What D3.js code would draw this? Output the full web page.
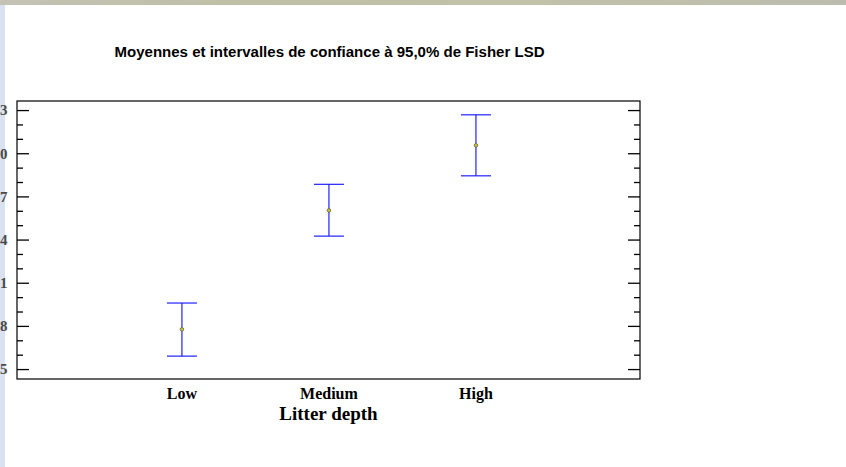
<!DOCTYPE html>
<html><head><meta charset="utf-8">
<script src="https://cdn.jsdelivr.net/npm/d3@7"></script>
<style>body{margin:0;background:#fff;}svg{display:block;}</style>
</head><body>
<script>
const categories = ["Low", "Medium", "High"];
const means = [7.76, 16.03, 20.55];
const lowers = [5.90, 14.24, 18.43];
const uppers = [9.59, 17.84, 22.67];
const majorTicks = [5, 8, 11, 14, 17, 20, 23];
const minorTicks = [6, 7, 9, 10, 12, 13, 15, 16, 18, 19, 21, 22];
// the reference is cropped on the left: only the last digit of each tick label is visible
const yTickLabels = ["5", "8", "1", "4", "7", "0", "3"];
const title = "Moyennes et intervalles de confiance à 95,0% de Fisher LSD";
const xTitle = "Litter depth";

const W = 846, H = 467;
const svg = d3.select("body").append("svg").attr("width", W).attr("height", H);

const grad = svg.append("defs").append("linearGradient").attr("id", "topg");
grad.append("stop").attr("offset", "0%").attr("stop-color", "#c4c2b4");
grad.append("stop").attr("offset", "30%").attr("stop-color", "#bfbfa6");
grad.append("stop").attr("offset", "60%").attr("stop-color", "#c2c2aa");
grad.append("stop").attr("offset", "100%").attr("stop-color", "#bcbcae");
svg.append("rect").attr("x", 0).attr("y", 0).attr("width", W).attr("height", 5).attr("fill", "url(#topg)");
svg.append("rect").attr("x", 0).attr("y", 5).attr("width", 5).attr("height", H - 5).attr("fill", "#d9e2f0");

const L = 17, R = 640, T = 101, B = 379;
const y = d3.scaleLinear().domain([4.31, 23.63]).range([B, T]);
const x = d3.scaleLinear().domain([1 - 1.122, 3 + 1.116]).range([L, R]);

svg.append("rect").attr("x", L).attr("y", T).attr("width", R - L).attr("height", B - T)
  .attr("fill", "none").attr("stroke", "#000").attr("stroke-width", 1.2);

const gl = svg.append("g").attr("transform", `translate(${L},0)`);
gl.call(d3.axisRight(y).tickValues(majorTicks).tickSize(12).tickFormat(""))
  .call(g => g.select(".domain").remove());
gl.append("g").call(d3.axisRight(y).tickValues(minorTicks).tickSize(6).tickFormat(""))
  .call(g => g.select(".domain").remove());
gl.selectAll("line").attr("stroke", "#000").attr("stroke-width", 1.3);

const gr = svg.append("g").attr("transform", `translate(${R},0)`);
gr.call(d3.axisLeft(y).tickValues(majorTicks).tickSize(12).tickFormat(""))
  .call(g => g.select(".domain").remove());
gr.append("g").call(d3.axisLeft(y).tickValues(minorTicks).tickSize(6).tickFormat(""))
  .call(g => g.select(".domain").remove());
gr.selectAll("line").attr("stroke", "#000").attr("stroke-width", 1.3);

svg.append("g").selectAll("text").data(majorTicks).join("text")
  .attr("x", 7.5).attr("y", d => y(d)).attr("dy", "0.36em")
  .attr("text-anchor", "end")
  .attr("font-family", "Liberation Serif, serif").attr("font-weight", "bold").attr("font-size", 15)
  .attr("fill", "#4a4a4a").text((d, i) => yTickLabels[i]);

svg.append("text").attr("x", (L + R) / 2 + 1).attr("y", 57).attr("text-anchor", "middle")
  .attr("font-family", "Liberation Sans, Arial, sans-serif").attr("font-weight", "bold").attr("font-size", 14)
  .attr("textLength", 430).attr("lengthAdjust", "spacingAndGlyphs")
  .attr("fill", "#000").text(title);

svg.append("g").selectAll("text").data(categories).join("text")
  .attr("x", (d, i) => x(i + 1)).attr("y", 399).attr("text-anchor", "middle")
  .attr("font-family", "Liberation Serif, serif").attr("font-weight", "bold").attr("font-size", 16)
  .attr("fill", "#000").text(d => d);

svg.append("text").attr("x", (L + R) / 2).attr("y", 420).attr("text-anchor", "middle")
  .attr("font-family", "Liberation Serif, serif").attr("font-weight", "bold").attr("font-size", 19)
  .attr("fill", "#000").text(xTitle);

const cap = 15;
const eb = svg.append("g").selectAll("g").data(categories).join("g");
eb.append("line").attr("x1", (d, i) => x(i + 1)).attr("x2", (d, i) => x(i + 1))
  .attr("y1", (d, i) => y(lowers[i])).attr("y2", (d, i) => y(uppers[i]))
  .attr("stroke", "#2020ff").attr("stroke-width", 1.2);
eb.append("line").attr("x1", (d, i) => x(i + 1) - cap).attr("x2", (d, i) => x(i + 1) + cap)
  .attr("y1", (d, i) => y(uppers[i])).attr("y2", (d, i) => y(uppers[i]))
  .attr("stroke", "#2020ff").attr("stroke-width", 1.2);
eb.append("line").attr("x1", (d, i) => x(i + 1) - cap).attr("x2", (d, i) => x(i + 1) + cap)
  .attr("y1", (d, i) => y(lowers[i])).attr("y2", (d, i) => y(lowers[i]))
  .attr("stroke", "#2020ff").attr("stroke-width", 1.2);
eb.append("circle").attr("cx", (d, i) => x(i + 1)).attr("cy", (d, i) => y(means[i]))
  .attr("r", 1.8).attr("fill", "#c8c040").attr("stroke", "#666633").attr("stroke-width", 0.8);
</script>
</body></html>
